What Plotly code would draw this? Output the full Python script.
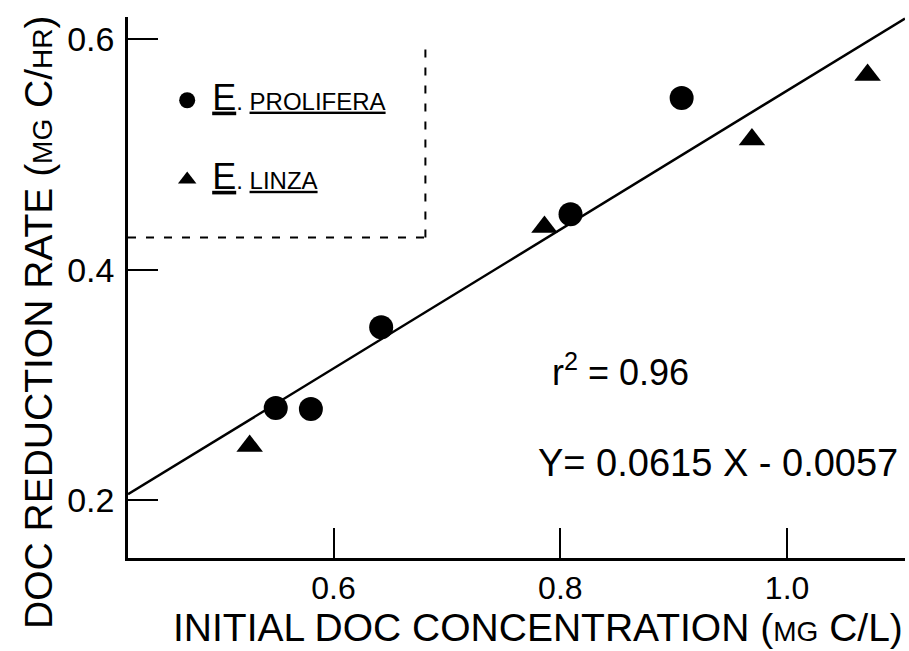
import plotly.graph_objects as go

# Data
prolifera_x = [0.549, 0.580, 0.642, 0.809, 0.907]
prolifera_y = [0.280, 0.279, 0.350, 0.448, 0.549]
linza_x = [0.526, 0.786, 0.969, 1.071]
linza_y = [0.247, 0.437, 0.513, 0.569]
fit_x = [0.4187, 1.104]
fit_y = [0.205, 0.618]
x_ticks = [0.6, 0.8, 1.0]
x_ticklabels = ["0.6", "0.8", "1.0"]
y_ticks = [0.2, 0.4, 0.6]
y_ticklabels = ["0.2", "0.4", "0.6"]

FONT = "Liberation Sans, Arial, sans-serif"
UL = "text-decoration:underline"

fig = go.Figure()
fig.add_trace(go.Scatter(
    x=fit_x, y=fit_y, mode="lines", line=dict(color="black", width=2.5),
    showlegend=False, hoverinfo="skip"))
fig.add_trace(go.Scatter(
    x=prolifera_x, y=prolifera_y, mode="markers",
    marker=dict(symbol="circle", size=24, color="black"),
    name=f"<span style='font-size:36px;{UL}'>E</span>. <span style='font-size:24px;{UL}'>PROLIFERA</span>",
    legendgroup="a"))
fig.add_trace(go.Scatter(
    x=linza_x, y=linza_y, mode="markers",
    marker=dict(symbol="triangle-up", size=23, color="black"),
    name=f"<span style='font-size:36px;{UL}'>E</span>. <span style='font-size:24px;{UL}'>LINZA</span>",
    legendgroup="b"))

fig.update_layout(
    width=909, height=651,
    margin=dict(l=128, r=4, t=17, b=93),
    paper_bgcolor="white", plot_bgcolor="white",
    font=dict(family=FONT, color="black"),
    legend=dict(x=0.044, y=0.887, xanchor="left", yanchor="top",
                bgcolor="rgba(0,0,0,0)", tracegroupgap=45, itemwidth=40,
                traceorder="grouped", font=dict(size=24, family=FONT),
                itemclick=False, itemdoubleclick=False),
    xaxis=dict(range=[0.4187, 1.104], showline=True, linecolor="black", linewidth=2.5,
               ticks="inside", ticklen=30, tickwidth=2, tickcolor="black",
               tickvals=x_ticks, ticktext=x_ticklabels, showgrid=False, zeroline=False,
               tickfont=dict(size=32, family=FONT)),
    yaxis=dict(range=[0.1497, 0.6193], showline=True, linecolor="black", linewidth=2.5,
               ticks="inside", ticklen=30, tickwidth=2, tickcolor="black",
               tickvals=y_ticks, ticktext=y_ticklabels, showgrid=False, zeroline=False,
               tickfont=dict(size=34, family=FONT), ticklabelstandoff=4),
    annotations=[
        dict(text="INITIAL DOC CONCENTRATION (<span style='font-size:28px'>MG</span> C/L)",
             xref="paper", yref="paper", x=1.0, y=-0.129, xanchor="right", yanchor="middle",
             showarrow=False, font=dict(size=39, family=FONT)),
        dict(text="DOC REDUCTION RATE (<span style='font-size:28px'>MG</span> C/<span style='font-size:28px'>HR</span>)",
             xref="paper", yref="paper", x=-0.116, y=0.436, xanchor="center", yanchor="middle",
             textangle=-90, showarrow=False, font=dict(size=39, family=FONT)),
        dict(text="r<sup>2</sup> = 0.96", xref="x", yref="y", x=0.8527, y=0.313,
             xanchor="center", yanchor="middle", showarrow=False,
             font=dict(size=36, family=FONT)),
        dict(text="Y= 0.0615 X - 0.0057", xref="x", yref="y", x=0.939, y=0.232,
             xanchor="center", yanchor="middle", showarrow=False,
             font=dict(size=38, family=FONT)),
    ],
    shapes=[
        dict(type="line", xref="x", yref="y", x0=0.681, x1=0.681, y0=0.428, y1=0.598,
             line=dict(color="black", width=2, dash="8px,10px")),
        dict(type="line", xref="x domain", yref="y", x0=0.0, x1=0.382, y0=0.428, y1=0.428,
             line=dict(color="black", width=2, dash="8px,10px")),
    ],
)

fig.write_html("out.html")
